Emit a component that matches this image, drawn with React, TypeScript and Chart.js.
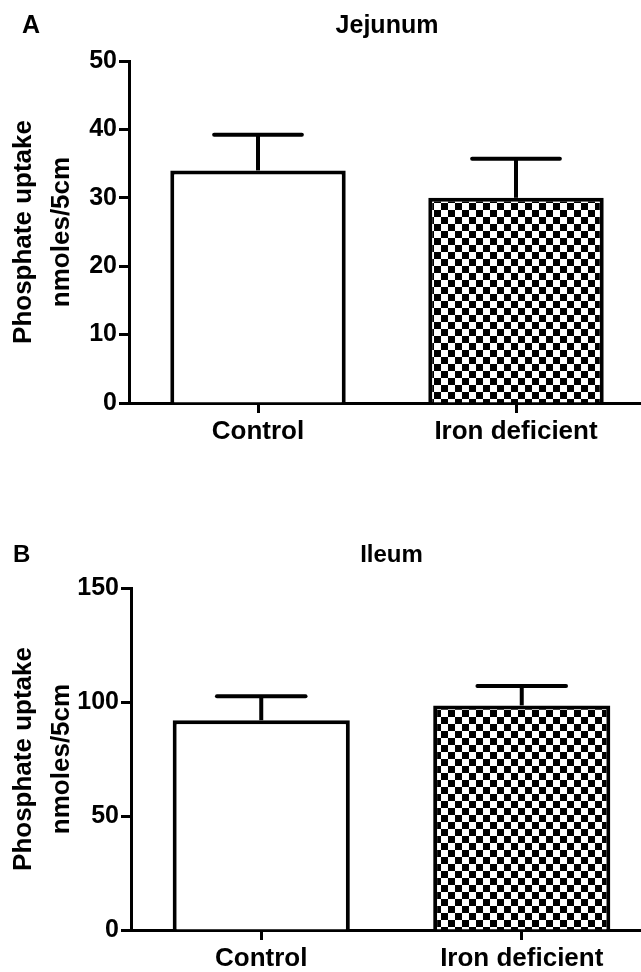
import React, { useEffect, useRef } from "react";
import { Chart, registerables } from "chart.js";
Chart.register(...registerables);

const categories = ["Control", "Iron deficient"];
const jejunumMeans = [34, 30];
const jejunumSem = [5.2, 5.7];
const ileumMeans = [92, 98.5];
const ileumSem = [10.5, 8.5];
const jejunumMax = 50;
const jejunumStep = 10;
const ileumMax = 150;
const ileumStep = 50;
const yTitle = ["Phosphate uptake", "nmoles/5cm"];

const FONT = "'Liberation Sans', Arial, Helvetica, sans-serif";

function makeChecker(ctx: CanvasRenderingContext2D) {
  const c = document.createElement("canvas");
  c.width = 14;
  c.height = 14;
  const g = c.getContext("2d")!;
  g.fillStyle = "#fff";
  g.fillRect(0, 0, 14, 14);
  g.fillStyle = "#000";
  g.fillRect(0, 0, 7, 7);
  g.fillRect(7, 7, 7, 7);
  return ctx.createPattern(c, "repeat");
}

const errorBarPlugin = {
  id: "errorBars",
  afterDatasetsDraw(chart: any, _args: any, opts: any) {
    const meta = chart.getDatasetMeta(0);
    const ys = chart.scales.y;
    const data = chart.data.datasets[0].data as number[];
    const sem: number[] = opts.sem || [];
    const ctx = chart.ctx as CanvasRenderingContext2D;
    ctx.save();
    ctx.strokeStyle = "#000";
    ctx.lineWidth = 4;
    meta.data.forEach((bar: any, i: number) => {
      const top = ys.getPixelForValue(data[i] + sem[i]);
      const x = bar.x;
      const half = bar.width / 4;
      ctx.beginPath();
      ctx.lineCap = "butt";
      ctx.moveTo(x, bar.y);
      ctx.lineTo(x, top);
      ctx.stroke();
      ctx.beginPath();
      ctx.lineCap = "round";
      ctx.moveTo(x - half, top);
      ctx.lineTo(x + half, top);
      ctx.stroke();
    });
    ctx.restore();
  },
};

const labelPlugin = {
  id: "panelLabels",
  afterDraw(chart: any, _args: any, opts: any) {
    const ctx = chart.ctx as CanvasRenderingContext2D;
    const area = chart.chartArea;
    ctx.save();
    ctx.fillStyle = "#000";
    ctx.font = `bold ${opts.size}px ${FONT}`;
    ctx.textBaseline = "alphabetic";
    ctx.textAlign = "left";
    ctx.fillText(opts.letter, opts.letterX, opts.baseline);
    ctx.textAlign = "center";
    ctx.fillText(opts.title, (area.left + area.right) / 2, opts.baseline);
    ctx.restore();
  },
};

type PanelProps = {
  letter: string;
  title: string;
  means: number[];
  sem: number[];
  yMax: number;
  step: number;
  yWidth: number;
  xHeight: number;
  padding: { top: number; right: number; bottom: number; left: number };
  letterX: number;
  baseline: number;
  labelSize: number;
};

function Panel(p: PanelProps) {
  const ref = useRef<HTMLCanvasElement>(null);
  useEffect(() => {
    const canvas = ref.current!;
    const ctx = canvas.getContext("2d")!;
    const checker = makeChecker(ctx);
    const chart = new Chart(canvas, {
      type: "bar",
      data: {
        labels: categories,
        datasets: [
          {
            data: p.means,
            backgroundColor: ["#ffffff", checker as any],
            borderColor: "#000",
            borderWidth: 4,
            categoryPercentage: 1,
            barPercentage: 0.68,
          },
        ],
      },
      options: {
        responsive: false,
        animation: false,
        layout: { padding: p.padding },
        plugins: {
          legend: { display: false },
          tooltip: { enabled: false },
          title: { display: false },
          errorBars: { sem: p.sem },
          panelLabels: {
            letter: p.letter,
            title: p.title,
            letterX: p.letterX,
            baseline: p.baseline,
            size: p.labelSize,
          },
        } as any,
        scales: {
          x: {
            type: "category",
            offset: true,
            afterFit: (s: any) => {
              s.height = p.xHeight;
            },
            grid: {
              display: true,
              drawOnChartArea: false,
              offset: false,
              tickLength: 10,
              tickWidth: 3,
              tickColor: "#000",
            },
            border: { display: true, color: "#000", width: 3 },
            ticks: {
              color: "#000",
              padding: 3,
              font: { family: FONT, size: 26, weight: "bold" },
            },
          },
          y: {
            min: 0,
            max: p.yMax,
            afterFit: (s: any) => {
              s.width = p.yWidth;
            },
            grid: {
              display: true,
              drawOnChartArea: false,
              tickLength: 10,
              tickWidth: 3,
              tickColor: "#000",
            },
            border: { display: true, color: "#000", width: 3 },
            ticks: {
              stepSize: p.step,
              color: "#000",
              padding: 2,
              font: { family: FONT, size: 25, weight: "bold" },
            },
            title: {
              display: true,
              text: yTitle,
              color: "#000",
              padding: { top: 5, bottom: 0 },
              font: { family: FONT, size: 26, weight: "bold", lineHeight: 1.45 },
            },
          },
        },
      },
      plugins: [errorBarPlugin, labelPlugin],
    });
    return () => chart.destroy();
  }, []);
  return <canvas ref={ref} width={660} height={486} style={{ display: "block" }} />;
}

export default function App() {
  return (
    <div
      style={{
        position: "absolute",
        left: 0,
        top: 0,
        width: 641,
        height: 972,
        overflow: "hidden",
        background: "#fff",
      }}
    >
      <div style={{ position: "absolute", left: 0, top: 0 }}>
        <Panel
          letter="A"
          title="Jejunum"
          means={jejunumMeans}
          sem={jejunumSem}
          yMax={jejunumMax}
          step={jejunumStep}
          yWidth={129}
          xHeight={50}
          padding={{ top: 61, right: 15, bottom: 33, left: 0 }}
          letterX={22}
          baseline={33}
          labelSize={25}
        />
      </div>
      <div style={{ position: "absolute", left: 0, top: 486 }}>
        <Panel
          letter="B"
          title="Ileum"
          means={ileumMeans}
          sem={ileumSem}
          yMax={ileumMax}
          step={ileumStep}
          yWidth={131}
          xHeight={42}
          padding={{ top: 102, right: 8, bottom: 0, left: 0 }}
          letterX={13}
          baseline={76}
          labelSize={24}
        />
      </div>
    </div>
  );
}
